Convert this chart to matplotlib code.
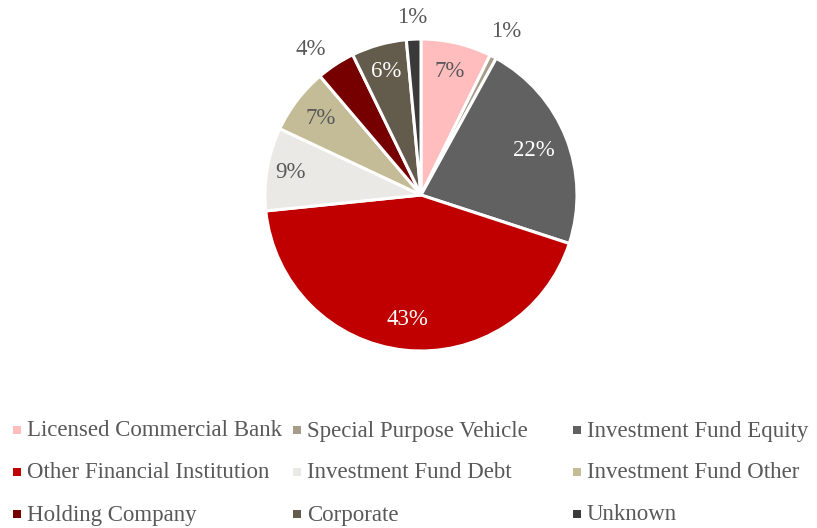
import matplotlib
matplotlib.use("Agg")
import matplotlib.pyplot as plt
from matplotlib.patches import Rectangle
import numpy as np

categories = ["Licensed Commercial Bank", "Special Purpose Vehicle", "Investment Fund Equity",
              "Other Financial Institution", "Investment Fund Debt", "Investment Fund Other",
              "Holding Company", "Corporate", "Unknown"]
values = [7.3, 0.7, 22.0, 43.3, 8.6, 6.8, 4.0, 5.7, 1.5]
labels = ["7%", "1%", "22%", "43%", "9%", "7%", "4%", "6%", "1%"]
colors = ["#FFBDBD", "#A59D8A", "#616161", "#C00000", "#EBE9E5", "#C4BC96",
          "#760000", "#635B4B", "#3A3A3A"]
label_colors = ["#595959", "#595959", "white", "white", "#595959", "#595959",
                "#595959", "white", "#595959"]
label_dist = [0.81, 1.18, 0.78, 0.80, 0.85, 0.81, 1.17, 0.82, 1.14]
label_shift = [0, 0, 0, 0, 0, 0, 4, 0, 0]

plt.rcParams['font.family'] = ['Liberation Serif', 'DejaVu Serif']

W, H = 817, 528
fig = plt.figure(figsize=(W / 100, H / 100), dpi=100)
cx, cy, r = 421, 195, 156
ax = fig.add_axes([(cx - r) / W, 1 - (cy + r) / H, 2 * r / W, 2 * r / H])
wedges, _ = ax.pie(values, colors=colors, startangle=90, counterclock=False,
                   wedgeprops=dict(edgecolor="white", linewidth=2.2))
ax.set_xlim(-1, 1)
ax.set_ylim(-1, 1)
ax.set_aspect("equal")

for w, lab, lc, d, s in zip(wedges, labels, label_colors, label_dist, label_shift):
    ang = np.deg2rad((w.theta1 + w.theta2) / 2 + s)
    ax.text(d * np.cos(ang), d * np.sin(ang), lab, ha="center", va="center",
            fontsize=16.5, color=lc)

col_x = [17, 297, 577]
row_y = [431, 473, 515]
for i, (name, c) in enumerate(zip(categories, colors)):
    row, col = i // 3, i % 3
    x, y = col_x[col], row_y[row]
    fig.patches.append(Rectangle(((x - 4) / W, 1 - (y + 3) / H), 8 / W, 8 / H,
                                 transform=fig.transFigure, facecolor=c,
                                 edgecolor="none"))
    fig.text((x + 10) / W, 1 - y / H, name, ha="left", va="center",
             fontsize=16.5, color="#595959")

fig.savefig("out.png", dpi=100)
